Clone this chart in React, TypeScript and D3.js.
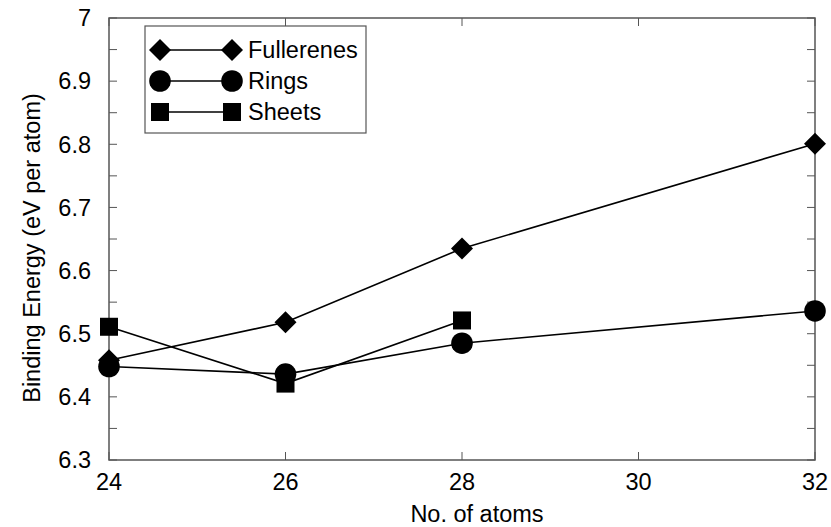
import React from "react";
import * as d3 from "d3";

const atoms = [24, 26, 28, 32];
const fullerenes = [6.458, 6.518, 6.635, 6.801];
const ringsX = [24, 26, 28, 32];
const rings = [6.448, 6.436, 6.485, 6.536];
const sheetsX = [24, 26, 28];
const sheets = [6.511, 6.421, 6.521];
const xTicks = [24, 26, 28, 30, 32];
const yTicks = [6.3, 6.4, 6.5, 6.6, 6.7, 6.8, 6.9, 7];
const yMinor = [6.3, 6.35, 6.4, 6.45, 6.5, 6.55, 6.6, 6.65, 6.7, 6.75, 6.8, 6.85, 6.9, 6.95, 7];
const seriesNames = ["Fullerenes", "Rings", "Sheets"];

const W = 831, H = 527;
const L = 109, R = 815, T = 18, B = 460;
const FONT = "'Liberation Sans', Arial, Helvetica, sans-serif";

function Marker({ kind, x, y }: { kind: string; x: number; y: number }) {
  if (kind === "diamond") {
    const s = 11;
    return <path d={`M${x},${y - s}L${x + s},${y}L${x},${y + s}L${x - s},${y}Z`} fill="#000" />;
  }
  if (kind === "circle") return <circle cx={x} cy={y} r={10.8} fill="#000" />;
  return <rect x={x - 9} y={y - 9} width={18} height={18} fill="#000" />;
}

export default function App() {
  const x = d3.scaleLinear().domain([24, 32]).range([L, R]);
  const y = d3.scaleLinear().domain([6.3, 7]).range([B, T]);
  const line = d3.line<[number, number]>().x((d) => x(d[0])).y((d) => y(d[1]));
  const series = [
    { name: seriesNames[0], kind: "diamond", pts: atoms.map((a, i) => [a, fullerenes[i]] as [number, number]) },
    { name: seriesNames[1], kind: "circle", pts: ringsX.map((a, i) => [a, rings[i]] as [number, number]) },
    { name: seriesNames[2], kind: "square", pts: sheetsX.map((a, i) => [a, sheets[i]] as [number, number]) },
  ];
  const axisColor = "#555";
  const legX1 = 160, legX2 = 232, legRows = [50, 81, 112];
  return (
    <svg width={W} height={H} style={{ position: "absolute", left: 0, top: 0, background: "#fff" }} fontFamily={FONT}>
      <rect x={0} y={0} width={W} height={H} fill="#fff" />
      {yMinor.map((v) => (
        <g key={"y" + v}>
          <line x1={L} x2={L + 8} y1={y(v)} y2={y(v)} stroke={axisColor} strokeWidth={1} />
          <line x1={R} x2={R - 8} y1={y(v)} y2={y(v)} stroke={axisColor} strokeWidth={1} />
        </g>
      ))}
      {xTicks.map((v) => (
        <g key={"x" + v}>
          <line x1={x(v)} x2={x(v)} y1={B} y2={B - 8} stroke={axisColor} strokeWidth={1} />
          <line x1={x(v)} x2={x(v)} y1={T} y2={T + 8} stroke={axisColor} strokeWidth={1} />
          <text x={x(v)} y={490} textAnchor="middle" fontSize={23.5} fill="#000">{v}</text>
        </g>
      ))}
      {yTicks.map((v) => (
        <text key={"yl" + v} x={91} y={y(v)} dy="0.35em" textAnchor="end" fontSize={23.5} fill="#000">
          {d3.format("")(+v.toFixed(1))}
        </text>
      ))}
      <rect x={L} y={T} width={R - L} height={B - T} fill="none" stroke={axisColor} strokeWidth={1.5} />
      {series.map((s) => (
        <g key={s.name}>
          <path d={line(s.pts) || ""} fill="none" stroke="#000" strokeWidth={1.6} />
          {s.pts.map((p, i) => (
            <Marker key={i} kind={s.kind} x={x(p[0])} y={y(p[1])} />
          ))}
        </g>
      ))}
      <rect x={145} y={26} width={221} height={107} fill="#fff" stroke={axisColor} strokeWidth={1.2} />
      {series.map((s, i) => (
        <g key={"leg" + s.name}>
          <line x1={legX1} x2={legX2} y1={legRows[i]} y2={legRows[i]} stroke="#000" strokeWidth={1.6} />
          <Marker kind={s.kind} x={legX1} y={legRows[i]} />
          <Marker kind={s.kind} x={legX2} y={legRows[i]} />
          <text x={248} y={legRows[i]} dy="0.35em" fontSize={23.5} fill="#000">{s.name}</text>
        </g>
      ))}
      <text x={477} y={522} textAnchor="middle" fontSize={23.5} fill="#000">No. of atoms</text>
      <text transform={`translate(40,248) rotate(-90)`} textAnchor="middle" fontSize={23.5} fill="#000">
        Binding Energy (eV per atom)
      </text>
    </svg>
  );
}
